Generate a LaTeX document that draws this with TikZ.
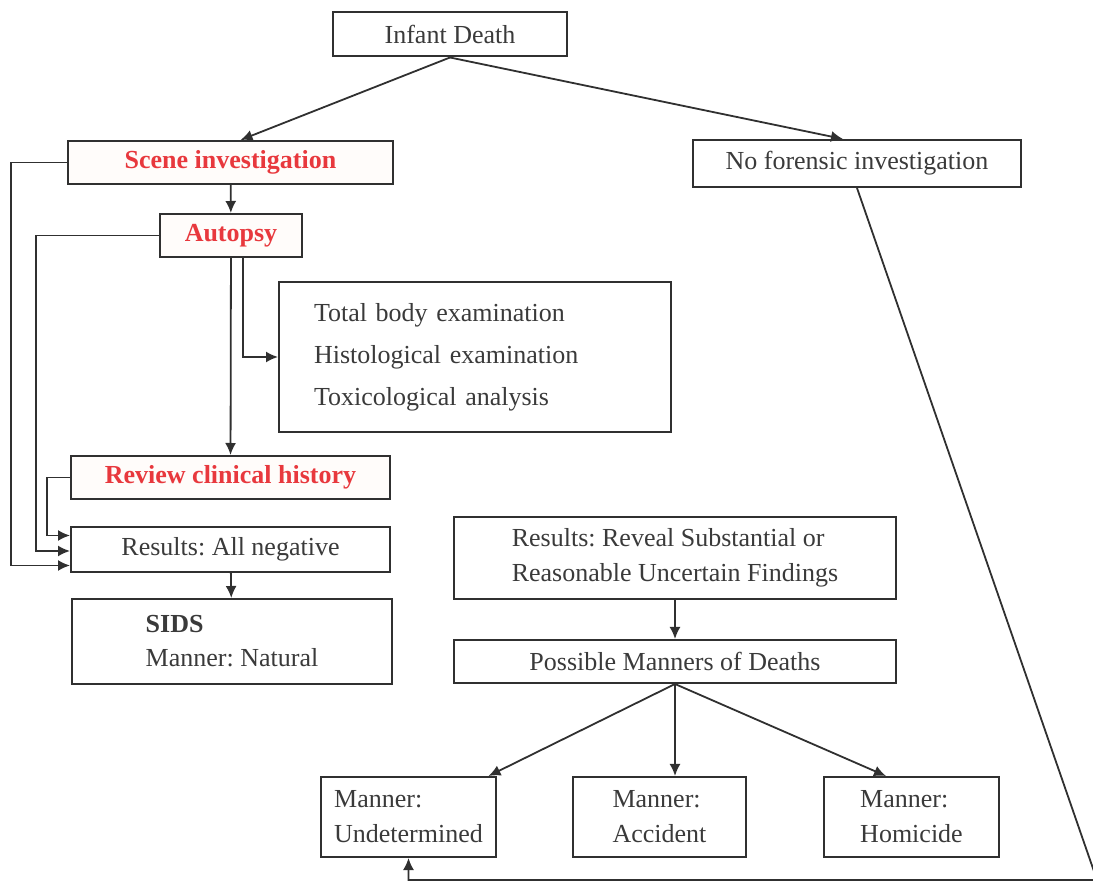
\documentclass[tikz,border=0pt]{standalone}
\usepackage{fontspec}
\setmainfont{Liberation Serif}
\frenchspacing
\usetikzlibrary{arrows.meta,calc}
\definecolor{ink}{HTML}{3A3A3A}
\definecolor{frame}{HTML}{303030}
\definecolor{alarm}{HTML}{E8383D}
\definecolor{paper}{HTML}{FFFCFA}
\newcommand{\boxfont}{\fontsize{13}{17.5}\selectfont}
\begin{document}
\begin{tikzpicture}[x=0.5pt,y=-0.5pt,
  box/.style={draw=frame, line width=1pt, inner sep=0pt, text=ink, font=\boxfont, align=left},
  step box/.style={box, fill=paper, text=alarm, font=\boxfont\bfseries},
  arr/.style={draw=frame, line width=0.9pt, -{Latex[length=6pt,width=5.5pt]}}]
\useasboundingbox (0,0) rectangle (1093,881);
% boxes
\node (death) [box, minimum width=117pt, minimum height=22pt] at (450,34.5) {Infant Death};
\node (scene) [step box, minimum width=162.5pt, minimum height=21.5pt] at (230.5,162.5) {Scene investigation};
\node (noforensic) [box, minimum width=164pt, minimum height=23.5pt] at (857,163.5) {No forensic investigation};
\node (autopsy) [step box, minimum width=71pt, minimum height=21.5pt] at (231,235.5) {Autopsy};
\node (exams) [box, anchor=west, text width=161pt, inner xsep=17.5pt, minimum height=75pt,
  font=\fontsize{13}{21}\selectfont] at (278,357)
  {Total body examination\\ Histological examination\\ Toxicological analysis};
\node (review) [step box, minimum width=159.5pt, minimum height=21.5pt] at (230.5,477.5) {Review clinical history};
\node (negative) [box, minimum width=159.5pt, minimum height=22.5pt] at (230.5,549.5) {Results: All negative};
\node (sids) [box, minimum width=160pt, minimum height=42.5pt, font=\fontsize{13}{17}\selectfont] at (232,641.5)
  {\textbf{SIDS}\\ Manner: Natural};
\node (reveal) [box, minimum width=221pt, minimum height=41pt] at (675,558)
  {Results: Reveal Substantial or\\ Reasonable Uncertain Findings};
\node (possible) [box, minimum width=221pt, minimum height=21.5pt] at (675,661.5) {Possible Manners of Deaths};
\node (undet) [box, minimum width=87.5pt, minimum height=40pt] at (408.5,817) {Manner:\\ Undetermined};
\node (accident) [box, minimum width=86.5pt, minimum height=40pt] at (659.5,817) {Manner:\\ Accident};
\node (homicide) [box, minimum width=87.5pt, minimum height=40pt] at (911.5,817) {Manner:\\ Homicide};
% connectors
\draw [arr] (death.south) -- ([xshift=5pt]scene.north);
\draw [arr] (death.south) -- ([xshift=-7pt]noforensic.north);
\draw [arr] (scene) -- (autopsy);
\draw [arr] (autopsy) -- (review);
\draw [arr] ([xshift=6pt]autopsy.south) |- (exams.west);
\draw [arr] (scene.west) -- ++(-56,0) |- ([yshift=-8pt]negative.west);
\draw [arr] (autopsy.west) -- ++(-123,0) |- ([yshift=-0.75pt]negative.west);
\draw [arr] (review.west) -- ++(-23,0) |- ([yshift=7pt]negative.west);
\draw [arr] (negative) -- (sids);
\draw [arr] (reveal) -- (possible);
\draw [arr] (possible.south) -- ([xshift=40pt]undet.north);
\draw [arr] (possible.south) -- (possible.south |- accident.north);
\draw [arr] (possible.south) -- ([xshift=-12.75pt]homicide.north);
\coordinate (corner) at (1097,880);
\draw [arr] (noforensic.south) -- (corner) -- (corner -| undet.south) -- (undet.south);
\end{tikzpicture}
\end{document}
